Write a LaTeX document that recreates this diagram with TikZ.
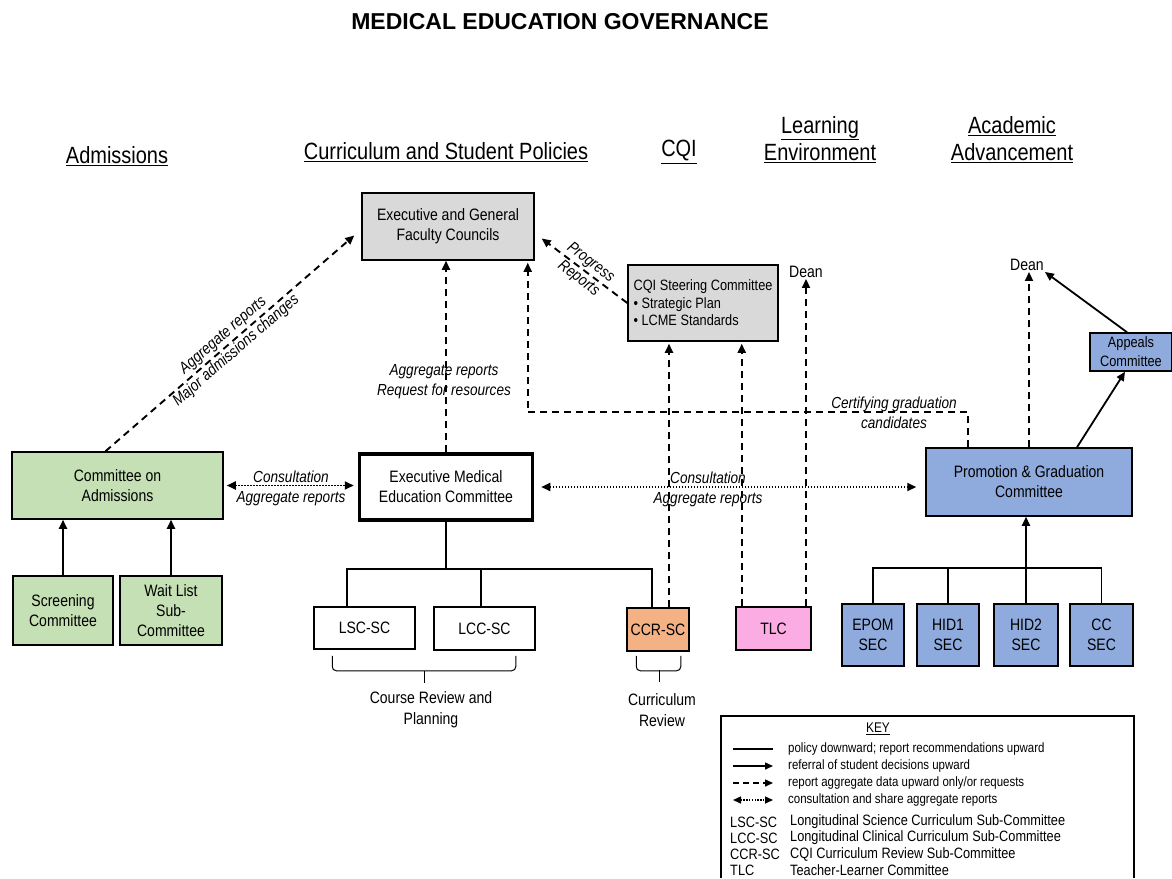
\documentclass[tikz,border=0pt]{standalone}
\usepackage{fontspec}
\setmainfont{Liberation Sans}[FakeStretch=0.85]
\newfontfamily\titlefont{Liberation Sans}
\usepackage{xcolor}
\usepackage{tikz}
\usetikzlibrary{arrows.meta, positioning, calc}

\definecolor{councilgray}{HTML}{D9D9D9}
\definecolor{admgreen}{HTML}{C5E0B4}
\definecolor{pgblue}{HTML}{8FAADC}
\definecolor{ccrorange}{HTML}{F4B183}
\definecolor{tlcpink}{HTML}{FBACE2}

\tikzset{
	box/.style={draw, line width=1.5pt, align=center, inner sep=2pt, font=\fontsize{16.5}{20}\selectfont},
	hdr/.style={align=center, inner sep=1pt, font=\fontsize{23.5}{27}\selectfont},
	note/.style={align=center, inner sep=1pt, font=\itshape\fontsize{16}{20}\selectfont},
	txt/.style={align=center, inner sep=1pt, font=\fontsize{16.5}{21}\selectfont},
	keytxt/.style={inner sep=0pt, font=\fontsize{13.5}{16}\selectfont},
	abbtxt/.style={inner sep=0pt, font=\fontsize{15}{16}\selectfont},
	tip/.style={-{Triangle[length=9pt,width=8pt]}},
	treeline/.style={line width=1.8pt},
	solidarrow/.style={line width=1.8pt, tip},
	dasharrow/.style={line width=1.9pt, dash pattern=on 7pt off 5pt, tip},
	dotarrow/.style={line width=1.8pt, dash pattern=on 1.4pt off 1.6pt, {Triangle[length=9pt,width=8pt]}-{Triangle[length=9pt,width=8pt]}}
}

\begin{document}
\begin{tikzpicture}[x=1pt, y=-1pt]
	\useasboundingbox (0,0) rectangle (1172,878);
	
	\node[font={\titlefont\bfseries\fontsize{23}{26}\selectfont}] (title) at (560,22) {MEDICAL EDUCATION GOVERNANCE};
	
	\node[hdr] (hadm) at (117,156) {\underline{Admissions}};
	\node[hdr] (hcur) at (446,152) {\underline{Curriculum and Student Policies}};
	\node[hdr] (hcqi) at (679,152) {\underline{CQI}};
	\node[hdr] (hlrn) at (820,139.5) {\underline{Learning}\\\underline{Environment}};
	\node[hdr] (hacd) at (1012,139.5) {\underline{Academic}\\\underline{Advancement}};
	
	\node[box, fill=councilgray, minimum width=172pt, minimum height=67pt] (egfc) at (448,226.5) {Executive and General\\Faculty Councils};
	\node[box, fill=councilgray, minimum width=150pt, minimum height=76pt, align=left, font=\fontsize{15}{17.5}\selectfont] (cqi) at (703,303) {CQI Steering Committee\\\textbullet\ Strategic Plan\\\textbullet\ LCME Standards};
	\node[txt] (dean1) at (806,272) {Dean};
	\node[txt] (dean2) at (1027,265) {Dean};
	
	\node[box, fill=admgreen, minimum width=211pt, minimum height=67pt] (adm) at (117.5,485.5) {Committee on\\Admissions};
	\node[box, fill=admgreen, minimum width=100pt, minimum height=69pt] (scr) at (63,610.5) {Screening\\Committee};
	\node[box, fill=admgreen, minimum width=102pt, minimum height=69pt] (wait) at (171,610.5) {Wait List\\Sub-\\Committee};
	
	\node[box, line width=3.5pt, minimum width=173pt, minimum height=66pt] (emec) at (446,487) {Executive Medical\\Education Committee};
	\node[box, minimum width=101pt, minimum height=42pt] (lsc) at (364.5,628) {LSC-SC};
	\node[box, minimum width=101pt, minimum height=43pt] (lcc) at (484.5,628.5) {LCC-SC};
	\node[box, fill=ccrorange, minimum width=62pt, minimum height=43pt] (ccr) at (658,629.5) {CCR-SC};
	\node[box, fill=tlcpink, minimum width=75pt, minimum height=43pt] (tlc) at (773.5,628.5) {TLC};
	
	\node[box, fill=pgblue, minimum width=206pt, minimum height=68pt] (pgc) at (1029,482) {Promotion \& Graduation\\Committee};
	\node[box, fill=pgblue, minimum width=82pt, minimum height=38pt, font=\fontsize{15}{19}\selectfont] (app) at (1131,352) {Appeals\\Committee};
	\node[box, fill=pgblue, minimum width=62pt, minimum height=62pt] (epom) at (873,635) {EPOM\\SEC};
	\node[box, fill=pgblue, minimum width=62pt, minimum height=62pt] (hid1) at (948,635) {HID1\\SEC};
	\node[box, fill=pgblue, minimum width=64pt, minimum height=62pt] (hid2) at (1026,635) {HID2\\SEC};
	\node[box, fill=pgblue, minimum width=63pt, minimum height=62pt] (cc) at (1101.5,635) {CC\\SEC};
	
	\draw[dasharrow] ([xshift=-12pt]adm.north) -- ([shift={(-7,9)}]egfc.west) node[note, midway, sloped] (admlbl) {Aggregate reports\\Major admissions changes};
	\draw[dasharrow] (emec.north) -- (emec.north |- egfc.south);
	\node[note] (reqlbl) at (444,381.5) {Aggregate reports\\Request for resources};
	\draw[dasharrow] (cqi.west) -- ([shift={(7,12)}]egfc.east) node[note, midway, sloped] (prglbl) {Progress\\Reports};
	
	\coordinate (ccrup) at ([xshift=11pt]ccr.north);
	\coordinate (tlcup) at ([xshift=6.5pt]tlc.north west);
	\draw[dasharrow, shorten >=2pt] (ccrup) -- (ccrup |- cqi.south);
	\draw[dasharrow, shorten >=2pt] (tlcup) -- (tlcup |- cqi.south);
	\draw[dasharrow] (tlc.north -| dean1) -- (dean1.south);
	
	\coordinate (certup) at ([xshift=-61pt]pgc.north);
	\draw[dasharrow, shorten >=2pt] (certup) -- ++(0,-35) -| ([xshift=-7pt]egfc.south east);
	\node[note] (certlbl) at (894,413) {Certifying graduation\\candidates};
	\draw[dasharrow] (pgc.north) -- (pgc.north |- dean2.south);
	\draw[solidarrow] ([xshift=-4pt]app.north) -- (dean2.south east);
	\draw[solidarrow] ([xshift=48pt]pgc.north) -- ([xshift=-6pt]app.south);
	
	\draw[dotarrow, shorten <=3pt, shorten >=4pt] (adm.east) -- (adm.east -| emec.west);
	\node[note] (cons1) at (291,488) {Consultation\\Aggregate reports};
	\draw[dotarrow, shorten <=7pt, shorten >=9pt] (emec.east) -- (emec.east -| pgc.west);
	\node[note] (cons2) at (708,489) {Consultation\\Aggregate reports};
	
	\draw[solidarrow] (scr.north) -- (scr.north |- adm.south);
	\draw[solidarrow] (wait.north) -- (wait.north |- adm.south);
	
	\draw[treeline] ([xshift=-17.5pt]lsc.north) -- ++(0,-37) coordinate (cursplit) -| ([xshift=-6pt]ccr.north);
	\draw[treeline] (emec.south) -- (emec.south |- cursplit);
	\draw[treeline] ([xshift=-3.5pt]lcc.north) coordinate (lcctop) -- (lcctop |- cursplit);
	
	\draw[treeline] (epom.north) -- ++(0,-35) coordinate (secsplit) -| (cc.north);
	\draw[treeline] (hid1.north) -- (hid1.north |- secsplit);
	\draw[solidarrow] (hid2.north) -- (hid2.north |- pgc.south);
	
	\draw[line width=1pt, rounded corners=4pt] ([shift={(19,6)}]lsc.south west) -- ++(0,15) -| ([shift={(-20,5)}]lcc.south east);
	\draw[line width=1pt] (424,671) -- (424,683);
	\node[txt] (crplbl) at (431,710) {Course Review and\\Planning};
	\draw[line width=1pt, rounded corners=4pt] ([shift={(10,4)}]ccr.south west) -- ++(0,15) -| ([shift={(-9,4)}]ccr.south east);
	\draw[line width=1pt] (659,670) -- (659,682);
	\node[txt] (crvlbl) at (662,710) {Curriculum\\Review};
	
	\draw[line width=1.5pt] (721,878) -- (721,716) -- (1134,716) -- (1134,878);
	\node[keytxt, font=\fontsize{14}{16}\selectfont] (keyttl) at (878,729) {\underline{KEY}};
	\node[keytxt, anchor=west] (k1) at (788,749) {policy downward; report recommendations upward};
	\node[keytxt, anchor=west] (k2) at (788,766) {referral of student decisions upward};
	\node[keytxt, anchor=west] (k3) at (788,783) {report aggregate data upward only/or requests};
	\node[keytxt, anchor=west] (k4) at (788,800) {consultation and share aggregate reports};
	\draw[line width=1.5pt] ([xshift=-55pt]k1.west) -- ++(40,0);
	\draw[line width=1.5pt, -{Triangle[length=8pt,width=7pt]}] ([xshift=-55pt]k2.west) -- ++(40,0);
	\draw[line width=1.5pt, dash pattern=on 6pt off 4pt, -{Triangle[length=8pt,width=7pt]}] ([xshift=-55pt]k3.west) -- ++(40,0);
	\draw[line width=1.5pt, dash pattern=on 1.3pt off 1.5pt, {Triangle[length=8pt,width=7pt]}-{Triangle[length=8pt,width=7pt]}] ([xshift=-55pt]k4.west) -- ++(40,0);
	
	\node[abbtxt, anchor=west] (a1) at (730,822) {LSC-SC};
	\node[abbtxt, anchor=west] (a2) at (730,838) {LCC-SC};
	\node[abbtxt, anchor=west] (a3) at (730,854) {CCR-SC};
	\node[abbtxt, anchor=west] (a4) at (730,870) {TLC};
	\node[abbtxt, anchor=west] (d1) at (790,822) {Longitudinal Science Curriculum Sub-Committee};
	\node[abbtxt, anchor=west] (d2) at (790,838) {Longitudinal Clinical Curriculum Sub-Committee};
	\node[abbtxt, anchor=west] (d3) at (790,854) {CQI Curriculum Review Sub-Committee};
	\node[abbtxt, anchor=west] (d4) at (790,870) {Teacher-Learner Committee};
\end{tikzpicture}
\end{document}
